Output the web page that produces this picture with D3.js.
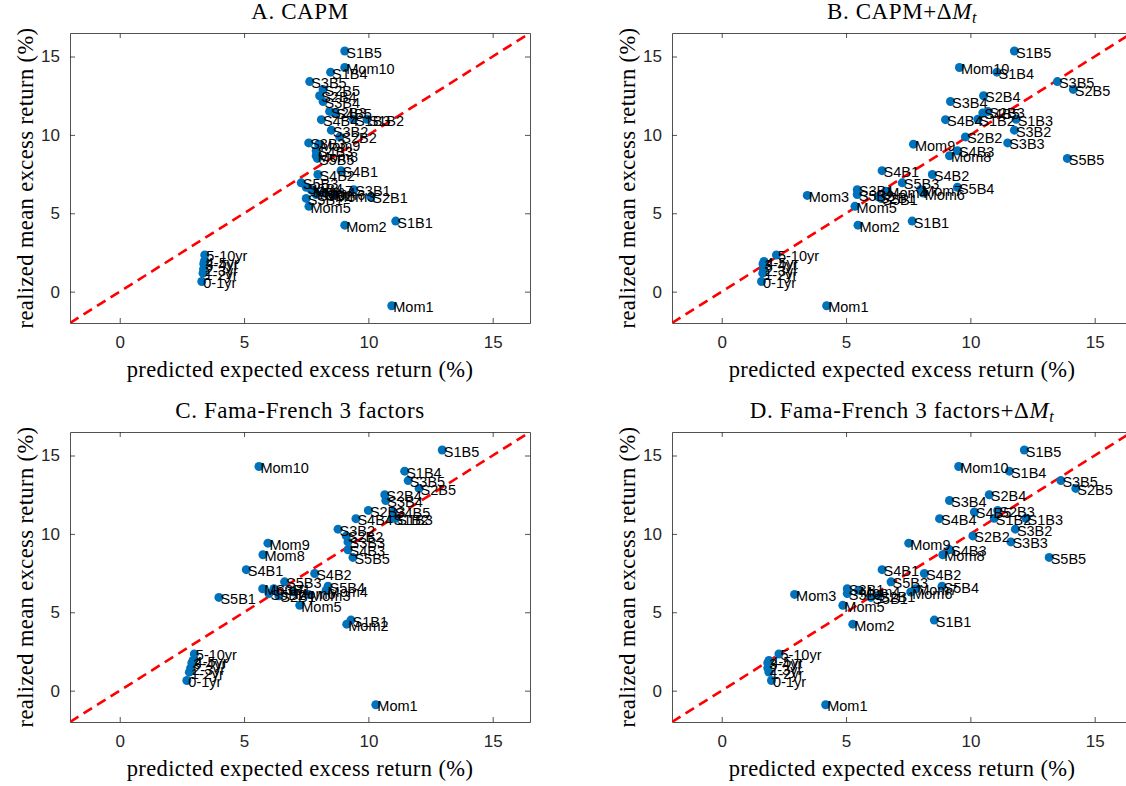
<!DOCTYPE html>
<html>
<head>
<meta charset="utf-8">
<script src="https://cdn.jsdelivr.net/npm/d3@7"></script>
<style>
  body { margin: 0; background: #fff; }
</style>
</head>
<body>
<svg width="1126" height="786"></svg>
<script>
// portfolio names: 25 size/BM, 10 momentum, 6 bond maturities
var names = ["S1B1","S1B2","S1B3","S1B4","S1B5",
             "S2B1","S2B2","S2B3","S2B4","S2B5",
             "S3B1","S3B2","S3B3","S3B4","S3B5",
             "S4B1","S4B2","S4B3","S4B4","S4B5",
             "S5B1","S5B2","S5B3","S5B4","S5B5",
             "Mom1","Mom2","Mom3","Mom4","Mom5","Mom6","Mom7","Mom8","Mom9","Mom10",
             "0-1yr","1-2yr","2-3yr","3-4yr","4-5yr","5-10yr"];

// realized mean excess return (%), same in all four panels
var realized = [4.5, 11.0, 11.0, 14.0, 15.35,
                6.05, 9.87, 11.5, 12.5, 12.9,
                6.5, 10.3, 9.49, 12.13, 13.4,
                7.72, 7.47, 8.99, 10.97, 11.4,
                5.95, 6.2, 6.94, 6.66, 8.5,
                -0.9, 4.24, 6.14, 6.4, 5.44, 6.29, 6.5, 8.67, 9.41, 14.3,
                0.65, 1.18, 1.44, 1.77, 1.92, 2.34];

// predicted expected excess return (%) by model
var capmPred = [11.1, 9.95, 9.4, 8.48, 9.05,
                10.1, 8.85, 8.44, 8.04, 8.18,
                9.41, 8.51, 7.6, 8.18, 7.64,
                8.9, 7.97, 7.9, 8.11, 8.65,
                7.5, 7.9, 7.3, 7.5, 7.95,
                10.94, 9.05, 8.6, 7.8, 7.61, 8.2, 7.7, 7.9, 8.0, 9.05,
                3.3, 3.35, 3.37, 3.38, 3.4, 3.42];

var capmDmPred = [7.66, 10.3, 11.84, 11.07, 11.77,
                  6.3, 9.8, 10.7, 10.53, 14.14,
                  5.45, 11.77, 11.5, 9.2, 13.5,
                  6.45, 8.47, 9.48, 9.0, 10.5,
                  6.4, 5.45, 7.26, 9.48, 13.9,
                  4.22, 5.48, 3.44, 6.6, 5.36, 8.1, 8.0, 9.16, 7.71, 9.56,
                  1.6, 1.65, 1.68, 1.66, 1.7, 2.2];

var ff3Pred = [9.3, 10.95, 11.1, 11.46, 12.97,
               6.4, 9.11, 10.0, 10.66, 12.04,
               6.2, 8.78, 9.18, 10.7, 11.6,
               5.09, 7.84, 9.18, 9.5, 11.0,
               3.99, 6.0, 6.63, 8.38, 9.38,
               10.3, 9.13, 7.6, 8.3, 7.24, 7.0, 5.75, 5.76, 5.96, 5.6,
               2.7, 2.8, 2.85, 2.9, 2.95, 3.0];

var ff3DmPred = [8.55, 10.96, 12.24, 11.57, 12.17,
                 6.3, 10.1, 11.1, 10.76, 14.24,
                 5.05, 11.81, 11.63, 9.16, 13.64,
                 6.45, 8.15, 9.16, 8.76, 10.16,
                 6.0, 5.05, 6.81, 8.86, 13.17,
                 4.18, 5.27, 2.93, 5.5, 4.87, 7.6, 7.8, 8.89, 7.52, 9.53,
                 2.0, 1.9, 1.85, 1.85, 1.9, 2.3];

var tickValues = [0, 5, 10, 15];
var axisRange = [-2, 16.5];

var sans = "'Liberation Sans', Arial, sans-serif";
var serif = "'Liberation Serif', 'Times New Roman', serif";

var svg = d3.select("svg");
svg.append("rect").attr("width", 1126).attr("height", 786).attr("fill", "#fff");

var panelW = 460, panelH = 290;

var panels = [
  {title: "A. CAPM", dm: false, pred: capmPred, left: 70, top: 33},
  {title: "B. CAPM+", dm: true, pred: capmDmPred, left: 672, top: 33},
  {title: "C. Fama-French 3 factors", dm: false, pred: ff3Pred, left: 70, top: 432},
  {title: "D. Fama-French 3 factors+", dm: true, pred: ff3DmPred, left: 672, top: 432}
];

panels.forEach(function(p, pi) {
  var x = d3.scaleLinear().domain(axisRange).range([0, panelW]);
  var y = d3.scaleLinear().domain(axisRange).range([panelH, 0]);

  var g = svg.append("g").attr("transform", "translate(" + p.left + "," + p.top + ")");

  var clipId = "clip" + pi;
  g.append("clipPath").attr("id", clipId)
    .append("rect").attr("width", panelW).attr("height", panelH);

  // axes, ticks pointing inward on all four sides
  function styleAxis(sel) {
    sel.selectAll("path").attr("stroke", "#262626").attr("stroke-width", 0.8);
    sel.selectAll("line").attr("stroke", "#262626").attr("stroke-width", 0.8);
    sel.selectAll("text").attr("fill", "#262626")
       .style("font-family", sans).style("font-size", "17px");
  }
  g.append("g").attr("transform", "translate(0," + panelH + ")")
    .call(d3.axisBottom(x).tickValues(tickValues).tickSize(-5).tickSizeOuter(0).tickPadding(13))
    .call(styleAxis);
  g.append("g")
    .call(d3.axisTop(x).tickValues(tickValues).tickSize(-5).tickSizeOuter(0).tickFormat(""))
    .call(styleAxis);
  g.append("g")
    .call(d3.axisLeft(y).tickValues(tickValues).tickSize(-5).tickSizeOuter(0).tickPadding(10))
    .call(styleAxis);
  g.append("g").attr("transform", "translate(" + panelW + ",0)")
    .call(d3.axisRight(y).tickValues(tickValues).tickSize(-5).tickSizeOuter(0).tickFormat(""))
    .call(styleAxis);

  // 45-degree line
  g.append("line")
    .attr("clip-path", "url(#" + clipId + ")")
    .attr("x1", x(axisRange[0])).attr("y1", y(axisRange[0]))
    .attr("x2", x(axisRange[1])).attr("y2", y(axisRange[1]))
    .attr("stroke", "#ff0000").attr("stroke-width", 2.6)
    .attr("stroke-dasharray", "10,6");

  var pts = names.map(function(n, i) { return {name: n, px: p.pred[i], ry: realized[i]}; });

  g.selectAll(".dot").data(pts).enter().append("circle")
    .attr("class", "dot")
    .attr("cx", function(d) { return x(d.px); })
    .attr("cy", function(d) { return y(d.ry); })
    .attr("r", 4.5)
    .attr("fill", "#0072bd");

  g.selectAll(".lbl").data(pts).enter().append("text")
    .attr("class", "lbl")
    .attr("x", function(d) { return x(d.px) + 1.5; })
    .attr("y", function(d) { return y(d.ry) + 6.5; })
    .style("font-family", sans).style("font-size", "14.5px")
    .attr("fill", "#000")
    .text(function(d) { return d.name; });

  // title
  var t = g.append("text")
    .attr("x", panelW / 2).attr("y", -14)
    .attr("text-anchor", "middle")
    .style("font-family", serif).style("font-size", "23px").style("letter-spacing", "0.6px")
    .attr("fill", "#000")
    .text(p.title);
  if (p.dm) {
    t.append("tspan").text("\u0394");
    t.append("tspan").style("font-style", "italic").text("M");
    t.append("tspan").style("font-style", "italic").style("font-size", "16px").attr("dy", 4).text("t");
  }

  // axis labels
  g.append("text")
    .attr("x", panelW / 2).attr("y", panelH + 54)
    .attr("text-anchor", "middle")
    .style("font-family", serif).style("font-size", "22.5px").style("letter-spacing", "0.4px")
    .attr("fill", "#000")
    .text("predicted expected excess return (%)");
  g.append("text")
    .attr("transform", "translate(-37," + (panelH / 2) + ") rotate(-90)")
    .attr("text-anchor", "middle")
    .style("font-family", serif).style("font-size", "22.5px").style("letter-spacing", "0.4px")
    .attr("fill", "#000")
    .text("realized mean excess return (%)");
});
</script>
</body>
</html>
